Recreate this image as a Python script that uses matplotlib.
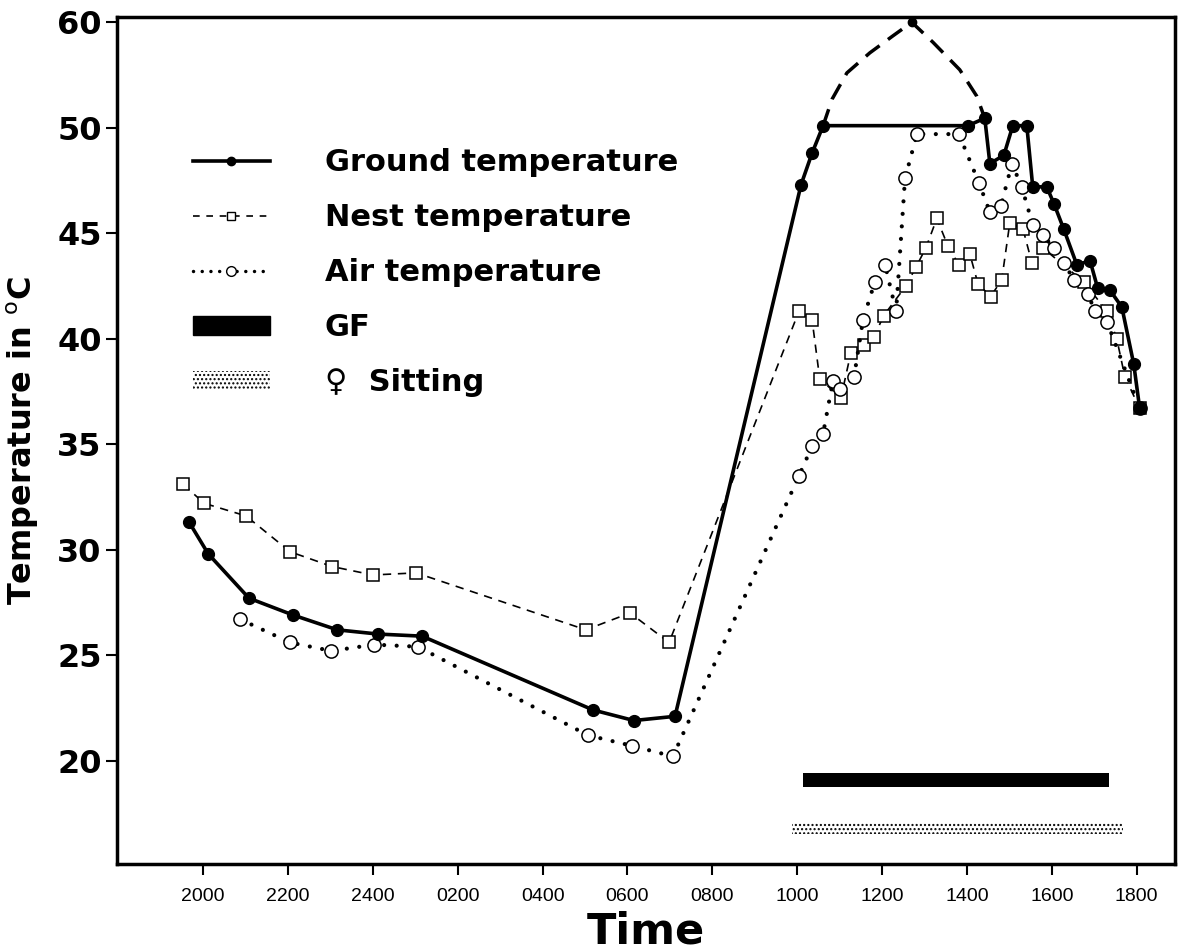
import matplotlib
matplotlib.use("Agg")
import matplotlib.pyplot as plt
from matplotlib.lines import Line2D
from matplotlib.patches import Patch
import numpy as np

# time in hours after 2000 (0 = 2000, 12 = 0800, 22 = 1800)
tick_hours = [0, 2, 4, 6, 8, 10, 12, 14, 16, 18, 20, 22]
tick_labels = ["2000", "2200", "2400", "0200", "0400", "0600",
               "0800", "1000", "1200", "1400", "1600", "1800"]
temp_ticks = [20, 25, 30, 35, 40, 45, 50, 60]

ground_h = [-0.33, 0.12, 1.08, 2.12, 3.16, 4.12, 5.16, 9.19, 10.15, 11.12,
            14.09, 14.35, 14.61, 18.02, 18.42, 18.54, 18.87, 19.08, 19.41,
            19.55, 19.88, 20.05, 20.28, 20.59, 20.90, 21.08, 21.37, 21.65,
            21.93, 22.07]
ground_t = [31.3, 29.8, 27.7, 26.9, 26.2, 26.0, 25.9, 22.4, 21.9, 22.1,
            47.3, 48.8, 50.2, 50.2, 50.9, 48.3, 48.7, 50.2, 50.2,
            47.2, 47.2, 46.4, 45.2, 43.5, 43.7, 42.4, 42.3, 41.5,
            38.8, 36.7]

# dashed estimate of ground temperature above 50
est_h = [14.61, 14.82, 15.17, 15.71, 16.25, 16.70, 17.20, 17.83, 18.23, 18.42]
est_t = [50.2, 52.7, 55.2, 57.1, 58.7, 60.0, 58.1, 55.5, 53.0, 50.9]

nest_h = [-0.47, 0.02, 1.01, 2.05, 3.04, 4.00, 5.02, 9.02, 10.06, 10.98,
          14.04, 14.35, 14.53, 15.03, 15.26, 15.57, 15.81, 16.04, 16.56,
          16.80, 17.03, 17.29, 17.55, 17.81, 18.07, 18.26, 18.56, 18.82,
          19.01, 19.32, 19.53, 19.79, 20.75, 21.30, 21.53, 21.72, 22.07]
nest_t = [33.1, 32.2, 31.6, 29.9, 29.2, 28.8, 28.9, 26.2, 27.0, 25.6,
          41.3, 40.9, 38.1, 37.2, 39.3, 39.7, 40.1, 41.1, 42.5,
          43.4, 44.3, 45.7, 44.4, 43.5, 44.0, 42.6, 42.0, 42.8,
          45.5, 45.2, 43.6, 44.3, 42.7, 41.3, 40.0, 38.2, 36.7]

air_h = [0.87, 2.05, 3.02, 4.03, 5.06, 9.07, 10.11, 11.07,
         14.04, 14.35, 14.61, 14.84, 15.01, 15.34, 15.55, 15.83, 16.07,
         16.33, 16.54, 16.82, 17.81, 18.28, 18.54, 18.80, 19.06, 19.29,
         19.55, 19.79, 20.05, 20.28, 20.52, 20.85, 21.02, 21.30, 22.07]
air_t = [26.7, 25.6, 25.2, 25.5, 25.4, 21.2, 20.7, 20.2,
         33.5, 34.9, 35.5, 38.0, 37.6, 38.2, 40.9, 42.7, 43.5,
         41.3, 47.6, 49.7, 49.7, 47.4, 46.0, 46.3, 48.3, 47.2,
         45.4, 44.9, 44.3, 43.6, 42.8, 42.1, 41.3, 40.8, 36.7]

gf_span = (14.13, 21.34)
sitting_span = (13.88, 21.67)


def fwd(t):
    t = np.asarray(t, dtype=float)
    return np.where(t <= 50, t, 50 + (t - 50) * 0.5)


def inv(u):
    u = np.asarray(u, dtype=float)
    return np.where(u <= 50, u, 50 + (u - 50) * 2)


fig = plt.figure(figsize=(11.94, 9.51), dpi=100)
ax = fig.add_axes([0.098, 0.0915, 0.886, 0.8906])
ax.set_yscale("function", functions=(fwd, inv))

# behaviour bars
ax.barh(19.1, gf_span[1] - gf_span[0], left=gf_span[0], height=0.66,
        color="black", zorder=2)
ax.barh(16.8, sitting_span[1] - sitting_span[0], left=sitting_span[0],
        height=0.6, facecolor="white", edgecolor="black", hatch="....",
        linewidth=0, zorder=2)

ax.plot(nest_h, nest_t, linestyle=(0, (5, 4)), color="black", lw=1.2,
        marker="s", ms=8, mfc="white", mec="black", mew=1.1, zorder=3)
ax.plot(air_h, air_t, linestyle=(0, (0.01, 3)), dash_capstyle="round",
        color="black", lw=3, marker="o", ms=9.5, mfc="white", mec="black",
        mew=1.1, zorder=4)
ax.plot(est_h, est_t, linestyle=(0, (5, 3)), color="black", lw=2.5,
        marker="o", ms=6, markevery=[5], zorder=5)
ax.plot(ground_h, ground_t, "-", color="black", lw=2.6, marker="o", ms=8.5,
        zorder=6)

ax.set_xlim(-2.03, 22.9)
ax.set_ylim(15.1, 60.5)
ax.set_xticks(tick_hours)
ax.set_xticklabels(tick_labels, fontfamily="Liberation Sans", fontsize=14)
ax.set_yticks(temp_ticks)
ax.set_yticklabels([str(v) for v in temp_ticks], fontsize=23,
                   fontweight="bold")
ax.minorticks_off()
ax.tick_params(axis="x", length=8, width=1.5, pad=9)
ax.tick_params(axis="y", length=8, width=1.5, pad=3)
for s in ax.spines.values():
    s.set_linewidth(2.5)

ax.set_xlabel("Time", fontsize=31, fontweight="bold", labelpad=4)
ax.set_ylabel("Temperature in $^{\\mathrm{o}}$C", fontsize=23,
              fontweight="bold", labelpad=12)

handles = [
    Line2D([], [], color="black", lw=2.6, marker="o", ms=6),
    Line2D([], [], color="black", lw=1.2, linestyle=(0, (4, 4)), marker="s",
           ms=6, mfc="white"),
    Line2D([], [], color="black", lw=2.5, linestyle=(0, (0.01, 2.5)),
           dash_capstyle="round", marker="o", ms=7, mfc="white"),
    Patch(facecolor="black", edgecolor="black"),
    Patch(facecolor="white", edgecolor="black", hatch="....", linewidth=0),
]
labels = ["Ground temperature", "Nest temperature", "Air temperature",
          "GF", "\u2640  Sitting"]
ax.legend(handles, labels, loc="upper left", bbox_to_anchor=(0.072, 0.845),
          frameon=False, handlelength=2.5, handletextpad=1.8,
          handleheight=0.6, labelspacing=0.85, borderpad=0, borderaxespad=0,
          prop={"weight": "bold", "size": 22})

fig.savefig("out.png", dpi=100)
